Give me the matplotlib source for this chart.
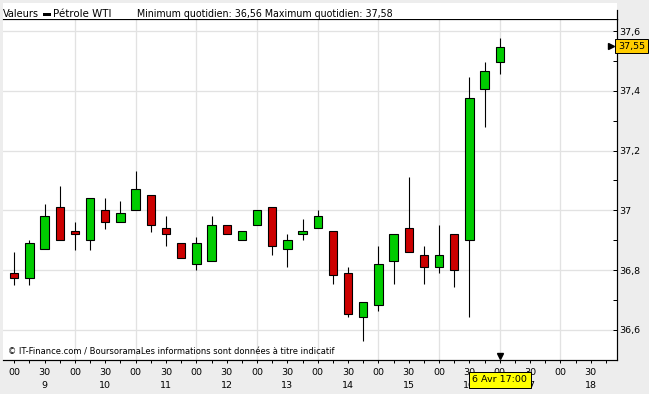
import matplotlib
matplotlib.use("Agg")
import matplotlib.pyplot as plt
from matplotlib.patches import Rectangle
from matplotlib.lines import Line2D
import matplotlib.transforms as mtransforms

# 15 min candles, 9:00 -> 17:00
opens = [36.79, 36.773, 36.87, 37.01, 36.93, 36.899, 37.0, 36.96, 37.0, 37.05, 36.94,
         36.89, 36.82, 36.83, 36.95, 36.90, 36.95, 37.01, 36.87, 36.92, 36.94,
         36.93, 36.79, 36.643, 36.683, 36.83, 36.94, 36.85, 36.81, 36.92, 36.90,
         37.407, 37.497]
highs = [36.862, 36.901, 37.021, 37.081, 36.96, 37.04, 37.04, 37.03, 37.131, 37.05, 36.98,
         36.89, 36.91, 36.98, 36.95, 36.93, 37.0, 37.01, 36.92, 36.97, 37.0,
         36.93, 36.81, 36.693, 36.88, 36.92, 37.111, 36.88, 36.951, 36.92, 37.448,
         37.497, 37.578]
lows = [36.751, 36.751, 36.87, 36.899, 36.868, 36.868, 36.939, 36.96, 37.0, 36.929, 36.879,
        36.84, 36.80, 36.83, 36.92, 36.90, 36.95, 36.85, 36.81, 36.90, 36.94,
        36.752, 36.642, 36.562, 36.663, 36.752, 36.86, 36.752, 36.79, 36.742, 36.642,
        37.279, 37.457]
closes = [36.773, 36.89, 36.98, 36.899, 36.92, 37.04, 36.96, 36.99, 37.07, 36.95, 36.92,
          36.84, 36.89, 36.95, 36.92, 36.93, 37.0, 36.88, 36.90, 36.93, 36.98,
          36.783, 36.653, 36.693, 36.82, 36.92, 36.86, 36.81, 36.85, 36.80, 37.377,
          37.467, 37.548]
hours = [9, 10, 11, 12, 13, 14, 15, 16, 17, 18]
y_ticks = [36.6, 36.8, 37.0, 37.2, 37.4, 37.6]
last_value = 37.55

W, H = 649, 394
bg = "#EDEDED"
fig = plt.figure(figsize=(W / 100, H / 100), dpi=100, facecolor=bg)
px = 0.72  # one pixel in points

def fx(x):
    return x / W

def fy(y):
    return 1 - y / H

# white panel behind header
fig.patches.append(Rectangle((fx(3), fy(19)), fx(614), (19 - 3) / H,
                             transform=fig.transFigure, facecolor="white",
                             edgecolor="none", zorder=0))
fig.lines.append(Line2D([fx(617), fx(617)], [fy(10), fy(19)], color="black",
                        lw=px * 1.2, transform=fig.transFigure))

ax = fig.add_axes([fx(3), fy(360), fx(614), (360 - 19) / H])
ax.set_facecolor("white")
ax.set_xlim(-0.745, 39.73)
ax.set_ylim(36.4985, 37.641)

ax.spines["left"].set_visible(False)
for s in ["top", "right", "bottom"]:
    ax.spines[s].set_color("black")
    ax.spines[s].set_linewidth(px * 1.2)

# grid
for v in y_ticks:
    ax.axhline(v, xmin=0, xmax=(613 - 3) / 614, color="#E2E2E2", lw=px * 1.3, zorder=0)
for i in range(4, 37, 4):
    ax.axvline(i, color="#E2E2E2", lw=px * 1.3, zorder=0)

# candles
idx = list(range(len(opens)))
ax.vlines(idx, lows, highs, color="black", lw=px * 1.1, zorder=2)
bottoms = [min(o, c) for o, c in zip(opens, closes)]
heights = [abs(c - o) for o, c in zip(opens, closes)]
colors = ["#00CC00" if c >= o else "#CC0000" for o, c in zip(opens, closes)]
ax.bar(idx, heights, bottom=bottoms, width=0.55, color=colors,
       edgecolor="black", linewidth=px * 1.1, zorder=3)

# y axis on the right
ax.yaxis.tick_right()
ax.set_yticks(y_ticks)
ax.set_yticklabels([("%g" % v).replace(".", ",") for v in y_ticks])
ax.set_yticks([36.5, 36.7, 36.9, 37.1, 37.3, 37.5], minor=True)
ax.tick_params(axis="y", which="both", direction="in", length=3, width=px,
               pad=1.5, labelsize=6.8, colors="black")

# x axis
ax.set_xticks(range(0, 39, 2))
ax.set_xticklabels(["00" if i % 4 == 0 else "30" for i in range(0, 39, 2)])
ax.set_xticks(range(0, 40), minor=True)
ax.tick_params(axis="x", which="both", direction="out", length=2.2, width=px,
               pad=3.5, labelsize=6.8)

btr = mtransforms.blended_transform_factory(ax.transData, ax.transAxes)
for k, h in enumerate(hours):
    ax.text(2 + 4 * k, (360 - 385) / 341, str(h), transform=btr, ha="center",
            va="center", fontsize=6.8, clip_on=False)

ax.text(32, (360 - 379.7) / 341, "6 Avr 17:00", transform=btr, ha="center",
        va="center", fontsize=6.8, zorder=10, clip_on=False,
        bbox=dict(boxstyle="square,pad=0.38", facecolor="#FFFF00",
                  edgecolor="black", linewidth=px))
ax.plot([32], [(360 - 355.5) / 341], marker="v", color="black", markersize=5,
        transform=btr, clip_on=False, zorder=5)

# current value
rtr = mtransforms.blended_transform_factory(ax.transAxes, ax.transData)
ax.text(1.0 + 1 / 614, last_value, ("%.2f" % last_value).replace(".", ","),
        transform=rtr, ha="left", va="center", fontsize=6.8, zorder=10,
        clip_on=False,
        bbox=dict(boxstyle="square,pad=0.3", facecolor="#FFCC00",
                  edgecolor="black", linewidth=px))
ax.plot([(611 - 3) / 614], [last_value], marker=">", color="black", markersize=4.5,
        transform=rtr, clip_on=False, zorder=5)

# header
fig.text(fx(3), fy(17.3), "Valeurs", fontsize=7, va="baseline")
fig.patches.append(Rectangle((fx(42.7), fy(16)), fx(8.3), 2.7 / H,
                             transform=fig.transFigure, facecolor="black"))
fig.text(fx(53.3), fy(17.3), "Pétrole WTI", fontsize=7.4, va="baseline")
fig.text(fx(137), fy(17.3), "Minimum quotidien: 36,56 Maximum quotidien: 37,58",
         fontsize=6.85, va="baseline")

# footnote
ax.text(5 / 614, (360 - 352) / 341,
        "© IT-Finance.com / BoursoramaLes informations sont données à titre indicatif",
        transform=ax.transAxes, fontsize=6.05, va="center", ha="left")

fig.savefig("out.png", dpi=100, facecolor=bg)
